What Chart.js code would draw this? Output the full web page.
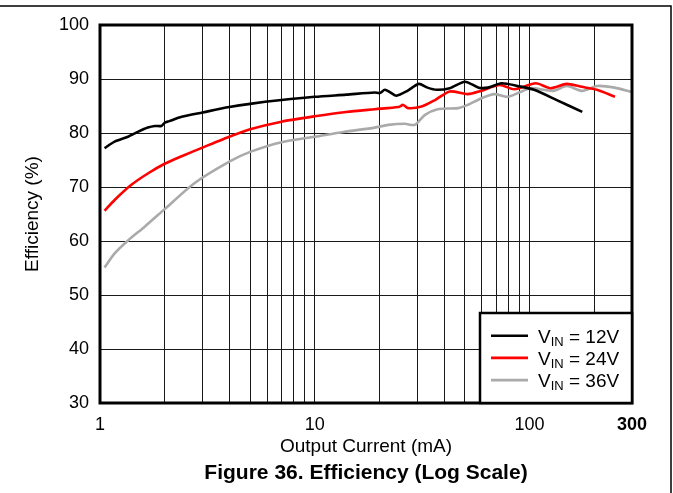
<!DOCTYPE html>
<html><head><meta charset="utf-8">
<script src="https://cdn.jsdelivr.net/npm/chart.js@4"></script>
<style>html,body{margin:0;padding:0;background:#fff;}canvas{display:block;}</style>
</head><body>
<canvas id="c" width="673" height="493"></canvas>
<script>
// ---- data ----
const vinLabels = ['12V', '24V', '36V'];
const seriesColors = ['#000000', '#ff0000', '#aaaaaa'];

const current12 = [1.05,1.17,1.35,1.5,1.67,1.8,1.93,2.0,2.1,2.4,3.0,4.0,5.0,7.0,10,14,19,20.1,21.2,22.5,24,27,30.5,33.5,37,42.5,50,58,64,74,88,105,134,176];
const eff12     = [77.2,78.4,79.3,80.2,81.0,81.3,81.3,81.9,82.2,83.0,83.8,84.8,85.4,86.1,86.7,87.1,87.5,87.4,88.0,87.5,86.9,87.8,89.1,88.4,88.0,88.3,89.5,88.4,88.4,89.2,88.7,88.0,86.1,83.9];

const current24 = [1.05,1.17,1.4,1.67,2.0,2.4,3.0,4.0,5.0,7.0,10,14,19,24.5,25.8,27.2,31.4,36.3,42.5,51.5,59.4,72.6,85,107,125,149,172,206,250];
const eff24     = [65.6,67.6,70.4,72.5,74.3,75.7,77.3,79.3,80.7,82.1,83.1,83.9,84.4,84.8,85.2,84.6,84.9,86.1,87.7,87.2,87.8,88.9,88.1,89.2,88.3,89.1,88.6,88.0,86.7];

const current36 = [1.05,1.17,1.35,1.62,2.0,2.75,4.0,5.0,7.0,10,13.6,19,22,26.3,29.2,32.5,37.3,46.4,51.5,59.4,68.6,79,89.5,101,129,149,176,206,249,300];
const eff36     = [55.1,57.7,60.1,62.7,65.9,70.7,74.7,76.5,78.3,79.3,80.2,81.0,81.5,81.7,81.5,83.3,84.4,84.6,85.2,86.4,87.2,86.7,87.5,88.3,87.8,88.7,87.8,88.7,88.4,87.6];

const xGridValues = [1,2,3,4,5,6,7,8,9,10,20,30,40,50,60,70,80,90,100,200,300];
const xTickLabels = ['1','10','100','300'];
const xTickLabelValues = [1,10,100,300];
const yMin = 30, yMax = 100, yStep = 10;

const xTitle = 'Output Current (mA)';
const yTitle = 'Efficiency (%)';
const figTitle = 'Figure 36. Efficiency (Log Scale)';

// ---- build ----
function pts(xs, ys) { return xs.map((x, i) => ({x: x, y: ys[i]})); }
const seriesX = [current12, current24, current36];
const seriesY = [eff12, eff24, eff36];

const datasets = vinLabels.map((lab, i) => ({
  label: 'VIN = ' + lab,
  data: pts(seriesX[i], seriesY[i]),
  borderColor: seriesColors[i],
  backgroundColor: seriesColors[i],
  borderWidth: 2.6,
  pointRadius: 0,
  tension: 0.25,
  fill: false
}));

const FONT = '"Liberation Sans", Arial, Helvetica, sans-serif';

const decorPlugin = {
  id: 'decor',
  afterLayout(chart) {
    // center the figure title on the plot area
    const tb = chart.titleBlock, a = chart.chartArea;
    if (tb) { tb.left = a.left; tb.right = a.right; tb.width = a.right - a.left; }
  },
  afterDraw(chart) {
    const ctx = chart.ctx, a = chart.chartArea;
    ctx.save();
    // plot border
    ctx.strokeStyle = '#000';
    ctx.lineWidth = 3;
    ctx.strokeRect(a.left, a.top, a.right - a.left, a.bottom - a.top);
    // page frame
    ctx.lineWidth = 1.5;
    ctx.beginPath();
    ctx.moveTo(0, 6); ctx.lineTo(671, 6); ctx.lineTo(671, chart.height);
    ctx.stroke();
    // legend
    const lw = 152, lh = 90;
    const lx = a.right - lw, ly = a.bottom - lh;
    ctx.fillStyle = '#fff';
    ctx.fillRect(lx, ly, lw, lh);
    ctx.lineWidth = 2.5;
    ctx.strokeStyle = '#000';
    ctx.strokeRect(lx, ly, lw, lh);
    vinLabels.forEach((lab, i) => {
      const cy = ly + 22.7 + i * 22.2;
      ctx.strokeStyle = seriesColors[i];
      ctx.lineWidth = 2.6;
      ctx.beginPath(); ctx.moveTo(lx + 11, cy); ctx.lineTo(lx + 48, cy); ctx.stroke();
      ctx.fillStyle = '#000';
      ctx.textAlign = 'left';
      ctx.textBaseline = 'alphabetic';
      ctx.font = '19px ' + FONT;
      let tx = lx + 58;
      ctx.fillText('V', tx, cy + 7.3);
      tx += ctx.measureText('V').width;
      ctx.font = '13px ' + FONT;
      ctx.fillText('IN', tx, cy + 10);
      tx += ctx.measureText('IN').width;
      ctx.font = '19px ' + FONT;
      ctx.fillText(' = ' + lab, tx, cy + 7.3);
    });
    ctx.restore();
  }
};

new Chart(document.getElementById('c'), {
  type: 'line',
  data: { datasets: datasets },
  options: {
    responsive: false,
    animation: false,
    devicePixelRatio: 1,
    layout: { padding: { top: 25, right: 41, left: 0, bottom: 0 } },
    plugins: {
      legend: { display: false },
      tooltip: { enabled: false },
      title: {
        display: true,
        text: figTitle,
        position: 'bottom',
        color: '#000',
        font: { family: FONT, size: 21, weight: 'bold', lineHeight: 1.2 },
        padding: { top: 0, bottom: 7.4 }
      }
    },
    scales: {
      x: {
        type: 'logarithmic',
        min: 1, max: 300,
        afterBuildTicks: (s) => { s.ticks = xGridValues.map(v => ({ value: v })); },
        afterFit: (s) => { s.height = 57.4; },
        ticks: {
          autoSkip: false, maxRotation: 0, minRotation: 0,
          padding: 11,
          color: '#000',
          font: (c) => ({ family: FONT, size: 18, weight: (c.tick && c.tick.value === 300) ? 'bold' : 'normal' }),
          callback: (v) => { const k = xTickLabelValues.indexOf(v); return k >= 0 ? xTickLabels[k] : ''; }
        },
        grid: { color: '#1a1a1a', lineWidth: 1, drawTicks: false },
        border: { display: false },
        title: { display: true, text: xTitle, color: '#000', font: { family: FONT, size: 19 }, padding: { top: 0, bottom: 2 } }
      },
      y: {
        type: 'linear',
        min: yMin, max: yMax,
        afterFit: (s) => { s.width = 100; },
        ticks: { stepSize: yStep, padding: 11, color: '#000', font: { family: FONT, size: 18 } },
        grid: { color: '#1a1a1a', lineWidth: 1, drawTicks: false },
        border: { display: false },
        title: { display: true, text: yTitle, color: '#000', font: { family: FONT, size: 19 }, padding: { top: 21.6, bottom: 0 } }
      }
    }
  },
  plugins: [decorPlugin]
});
</script>
</body></html>
